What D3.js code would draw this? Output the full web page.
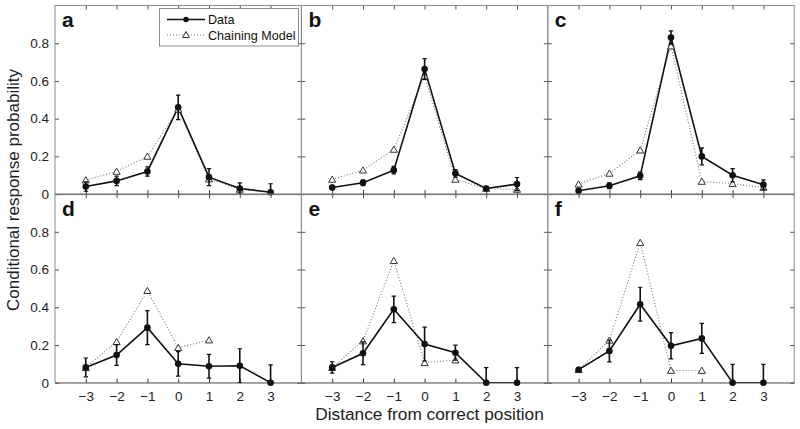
<!DOCTYPE html>
<html><head><meta charset="utf-8">
<script src="https://cdn.jsdelivr.net/npm/d3@7"></script>
<style>body{margin:0;background:#fff}svg{display:block;font-family:"Liberation Sans",Arial,Helvetica,sans-serif}</style>
</head><body><svg id="c" width="800" height="429"></svg>
<script>
const xVals = [-3,-2,-1,0,1,2,3];
const xTickLabels = ["\u22123","\u22122","\u22121","0","1","2","3"];
const yTicks = [0,0.2,0.4,0.6,0.8];
const yTickLabels = ["0","0.2","0.4","0.6","0.8"];
const panelLabels = ["a","b","c","d","e","f"];
const seriesNames = ["Data","Chaining Model"];

const dataA  = [0.04,0.07,0.12,0.46,0.09,0.03,0.01];
const errA   = [0.025,0.025,0.025,0.065,0.045,0.03,0.045];
const modelA = [0.075,0.12,0.20,0.45,0.08,0.025,0.01];

const dataB  = [0.035,0.06,0.127,0.663,0.11,0.03,0.053];
const errB   = [0.012,0.015,0.02,0.055,0.02,0.01,0.035];
const modelB = [0.078,0.127,0.237,0.626,0.078,0.03,0.025];

const dataC  = [0.018,0.044,0.097,0.83,0.20,0.10,0.05];
const errC   = [0.012,0.015,0.02,0.035,0.045,0.035,0.025];
const modelC = [0.053,0.11,0.233,0.785,0.067,0.055,0.035];

const dataD  = [0.081,0.147,0.292,0.10,0.087,0.09,0];
const errD   = [0.05,0.055,0.09,0.065,0.063,0.09,0.094];
const modelD = [0.08,0.217,0.488,0.186,0.226,null,null];

const dataE  = [0.081,0.156,0.389,0.205,0.159,0,0];
const errE   = [0.03,0.06,0.07,0.09,0.04,0.08,0.08];
const modelE = [0.08,0.221,0.647,0.106,0.12,null,null];

const dataF  = [0.069,0.168,0.416,0.196,0.235,0,0];
const errF   = [0.005,0.058,0.09,0.07,0.08,0.097,0.097];
const modelF = [0.069,0.225,0.743,0.065,0.065,null,null];

const panels = [
  {data:dataA, err:errA, model:modelA},
  {data:dataB, err:errB, model:modelB},
  {data:dataC, err:errC, model:modelC},
  {data:dataD, err:errD, model:modelD},
  {data:dataE, err:errE, model:modelE},
  {data:dataF, err:errF, model:modelF}
];

const svg = d3.select("#c");
const left0 = 55, W = 246.4, top0 = 5.5, H = 188.6;
const frameColor = "#8c8c8c";

panels.forEach((p, i) => {
  const col = i % 3, row = Math.floor(i / 3);
  const px = left0 + col * W, py = top0 + row * H;
  const x = d3.scaleLinear().domain([-4,4]).range([px, px + W]);
  const y = d3.scaleLinear().domain([0,1]).range([py + H, py]);
  const g = svg.append("g");
  const cid = "clip" + i;
  svg.append("clipPath").attr("id", cid).append("rect")
    .attr("x", px).attr("y", py).attr("width", W).attr("height", H);

  g.append("rect").attr("x", px).attr("y", py).attr("width", W).attr("height", H)
    .attr("fill", "none").attr("stroke", frameColor).attr("stroke-width", 1);

  const ax = g.append("g").attr("transform", `translate(0,${py + H})`)
    .call(d3.axisBottom(x).tickValues(xVals).tickSizeInner(-4).tickSizeOuter(0)
      .tickFormat((d, k) => row === 1 ? xTickLabels[k] : ""));
  ax.select(".domain").attr("stroke", row === 0 ? "#555" : frameColor);
  ax.selectAll(".tick line").attr("stroke", "#333");
  ax.selectAll(".tick text").attr("font-size", 13.5).attr("fill", "#222").attr("dy", "1.15em");

  const axT = g.append("g").attr("transform", `translate(0,${py})`)
    .call(d3.axisTop(x).tickValues(xVals).tickSizeInner(-4).tickSizeOuter(0).tickFormat(""));
  axT.select(".domain").remove();
  axT.selectAll(".tick line").attr("stroke", "#555");

  const ay = g.append("g").attr("transform", `translate(${px},0)`)
    .call(d3.axisLeft(y).tickValues(yTicks).tickSizeInner(-4).tickSizeOuter(0)
      .tickFormat((d, k) => col === 0 ? yTickLabels[k] : ""));
  ay.select(".domain").remove();
  ay.selectAll(".tick line").attr("stroke", "#555");
  ay.selectAll(".tick text").attr("font-size", 13.5).attr("fill", "#222").attr("x", -6);

  const ayR = g.append("g").attr("transform", `translate(${px + W},0)`)
    .call(d3.axisRight(y).tickValues(yTicks).tickSizeInner(-4).tickSizeOuter(0).tickFormat(""));
  ayR.select(".domain").remove();
  ayR.selectAll(".tick line").attr("stroke", "#555");

  const plot = g.append("g").attr("clip-path", `url(#${cid})`);

  const mPts = xVals.map((xv, k) => ({x: xv, v: p.model[k]})).filter(d => d.v !== null);
  plot.append("path").datum(mPts)
    .attr("d", d3.line().x(d => x(d.x)).y(d => y(d.v)))
    .attr("fill", "none").attr("stroke", "#777").attr("stroke-width", 1.1)
    .attr("stroke-dasharray", "1,2");

  const dPts = xVals.map((xv, k) => ({x: xv, v: p.data[k], e: p.err[k]}));
  plot.append("path").datum(dPts)
    .attr("d", d3.line().x(d => x(d.x)).y(d => y(d.v)))
    .attr("fill", "none").attr("stroke", "#111").attr("stroke-width", 1.6);

  plot.selectAll(".tri").data(mPts).enter().append("path")
    .attr("d", d3.symbol().type(d3.symbolTriangle).size(22))
    .attr("transform", d => `translate(${x(d.x)},${y(d.v) + 0.8})`)
    .attr("fill", "#fff").attr("stroke", "#333").attr("stroke-width", 1);

  const eb = plot.selectAll(".eb").data(dPts).enter().append("g");
  eb.append("line").attr("x1", d => x(d.x)).attr("x2", d => x(d.x))
    .attr("y1", d => y(d.v - d.e)).attr("y2", d => y(d.v + d.e))
    .attr("stroke", "#111").attr("stroke-width", 1.6);
  eb.append("line").attr("x1", d => x(d.x) - 2.2).attr("x2", d => x(d.x) + 2.2)
    .attr("y1", d => y(d.v + d.e)).attr("y2", d => y(d.v + d.e))
    .attr("stroke", "#111").attr("stroke-width", 1.2);
  eb.append("line").attr("x1", d => x(d.x) - 2.2).attr("x2", d => x(d.x) + 2.2)
    .attr("y1", d => y(d.v - d.e)).attr("y2", d => y(d.v - d.e))
    .attr("stroke", "#111").attr("stroke-width", 1.2);

  svg.append("g").selectAll("circle").data(dPts).enter().append("circle")
    .attr("cx", d => x(d.x)).attr("cy", d => y(d.v)).attr("r", 3.3).attr("fill", "#111");

  svg.append("text").attr("x", px + 7).attr("y", py + 21.5)
    .attr("font-size", 21).attr("font-weight", "bold").attr("fill", "#111")
    .text(panelLabels[i]);
});

const lg = svg.append("g");
lg.append("rect").attr("x", 159.5).attr("y", 8.5).attr("width", 139).attr("height", 37.5)
  .attr("fill", "#fff").attr("stroke", frameColor);
lg.append("line").attr("x1", 167).attr("x2", 205).attr("y1", 19.5).attr("y2", 19.5)
  .attr("stroke", "#111").attr("stroke-width", 1.6);
lg.append("circle").attr("cx", 186).attr("cy", 19.5).attr("r", 2.8).attr("fill", "#111");
lg.append("line").attr("x1", 167).attr("x2", 205).attr("y1", 35).attr("y2", 35)
  .attr("stroke", "#777").attr("stroke-width", 1.1).attr("stroke-dasharray", "1,2");
lg.append("path").attr("d", d3.symbol().type(d3.symbolTriangle).size(20))
  .attr("transform", "translate(186,35.5)").attr("fill", "#fff").attr("stroke", "#333");
lg.append("text").attr("x", 208).attr("y", 24).attr("font-size", 12.6).attr("fill", "#111").text(seriesNames[0]);
lg.append("text").attr("x", 208).attr("y", 39.5).attr("font-size", 12.6).attr("fill", "#111").text(seriesNames[1]);

svg.append("text").attr("x", 429.5).attr("y", 419.5).attr("text-anchor", "middle")
  .attr("font-size", 17.3).attr("fill", "#222").text("Distance from correct position");
svg.append("text").attr("transform", "translate(19,190) rotate(-90)").attr("text-anchor", "middle")
  .attr("font-size", 17).attr("fill", "#222").text("Conditional response probability");
</script></body></html>
